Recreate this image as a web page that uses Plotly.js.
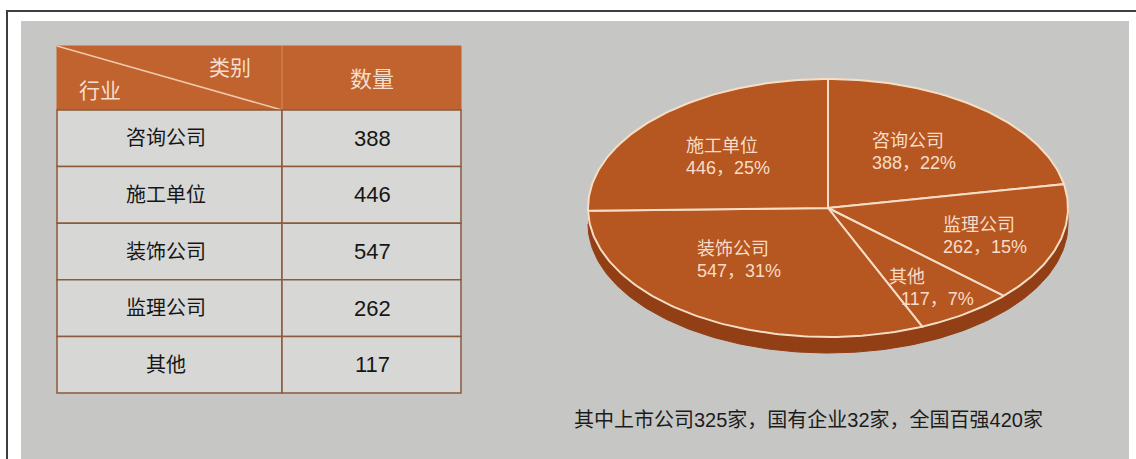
<!DOCTYPE html>
<html>
<head>
<meta charset="utf-8">
<script src="https://cdn.plot.ly/plotly-3.0.1.min.js"></script>
<style>html,body{margin:0;padding:0;background:#fff;}#chart{width:1136px;height:459px;}</style>
</head>
<body>
<div id="chart"></div>
<script>
// ---- data ----
const categories = ['咨询公司', '施工单位', '装饰公司', '监理公司', '其他'];
const counts = [388, 446, 547, 262, 117];
const pieOrder = ['咨询公司', '监理公司', '其他', '装饰公司', '施工单位'];
const headerCorner = ['类别', '行业'];
const headerValue = '数量';
const noteText = '其中上市公司325家，国有企业32家，全国百强420家';

// ---- style / layout config ----
const FONT = '"Liberation Sans", "Noto Sans CJK SC", sans-serif';
const W = 1136, H = 459;
const pageGrey = 'rgb(198,199,196)';
const tbl = {left: 57, split: 282, right: 461, top: 46, headH: 64, rowH: 56.6,
  headFill: 'rgb(193,99,46)', cellFill: 'rgb(215,216,213)', border: 'rgb(140,90,60)',
  headText: 'rgb(246,222,204)', cellText: '#161616'};
const pie = {cx: 828, cy: 208, rx: 240, ry: 129, depth: 16,
  top: 'rgb(182,86,32)', side: 'rgb(146,63,22)', edge: 'rgb(246,222,198)', text: 'rgb(247,221,200)'};
const labelR = {'咨询公司': 0.56, '施工单位': 0.56, '装饰公司': 0.5, '监理公司': 0.7, '其他': 0.7};
const labelShift = {'咨询公司': [0, 0], '施工单位': [-4, 0], '装饰公司': [-24, -2], '监理公司': [-4, 3], '其他': [6, 6]};

const shapes = [];
const annotations = [];
const traces = [];

// page frame & photo background
shapes.push({type: 'rect', xref: 'x', yref: 'y', x0: 21, x1: 1129, y0: 21, y1: H,
  fillcolor: pageGrey, line: {width: 0}, layer: 'below'});
shapes.push({type: 'path', xref: 'x', yref: 'y', path: `M7,${H} L7,11 L${W},11`,
  line: {color: '#3d3d3d', width: 2}, layer: 'below'});

// ---- table ----
shapes.push({type: 'rect', xref: 'x', yref: 'y', x0: tbl.left, x1: tbl.right, y0: tbl.top, y1: tbl.top + tbl.headH,
  fillcolor: tbl.headFill, line: {color: tbl.headFill, width: 1}, layer: 'below'});
shapes.push({type: 'line', xref: 'x', yref: 'y', x0: tbl.left, y0: tbl.top, x1: tbl.split, y1: tbl.top + tbl.headH,
  line: {color: 'rgb(240,200,170)', width: 1.5}, layer: 'below'});
shapes.push({type: 'line', xref: 'x', yref: 'y', x0: tbl.split, y0: tbl.top, x1: tbl.split, y1: tbl.top + tbl.headH,
  line: {color: 'rgb(215,140,95)', width: 1}, layer: 'below'});
annotations.push({x: 230, y: tbl.top + 21, xref: 'x', yref: 'y', text: headerCorner[0], showarrow: false,
  font: {family: FONT, size: 21, color: tbl.headText}});
annotations.push({x: 100, y: tbl.top + 44, xref: 'x', yref: 'y', text: headerCorner[1], showarrow: false,
  font: {family: FONT, size: 21, color: tbl.headText}});
annotations.push({x: (tbl.split + tbl.right) / 2, y: tbl.top + tbl.headH / 2 + 1, xref: 'x', yref: 'y', text: headerValue,
  showarrow: false, font: {family: FONT, size: 22, color: tbl.headText}});

categories.forEach((c, i) => {
  const y0 = tbl.top + tbl.headH + i * tbl.rowH, y1 = y0 + tbl.rowH;
  [[tbl.left, tbl.split], [tbl.split, tbl.right]].forEach(([x0, x1]) => {
    shapes.push({type: 'rect', xref: 'x', yref: 'y', x0, x1, y0, y1,
      fillcolor: tbl.cellFill, line: {color: tbl.border, width: 1.5}, layer: 'below'});
  });
  annotations.push({x: (tbl.left + tbl.split) / 2 - 4, y: (y0 + y1) / 2, xref: 'x', yref: 'y', text: c,
    showarrow: false, font: {family: FONT, size: 20, color: tbl.cellText}});
  annotations.push({x: (tbl.split + tbl.right) / 2 + 1, y: (y0 + y1) / 2, xref: 'x', yref: 'y', text: String(counts[i]),
    showarrow: false, font: {family: FONT, size: 22, color: tbl.cellText}});
});

// ---- 3D elliptical pie ----
const total = counts.reduce((a, b) => a + b, 0);
const deg = Math.PI / 180;
const ex = t => pie.cx + pie.rx * Math.cos(t * deg);
const ey = t => pie.cy - pie.ry * Math.sin(t * deg);

// side band (front half)
{
  const xs = [], ys = [];
  for (let t = 180; t <= 360; t += 1) { xs.push(ex(t)); ys.push(ey(t)); }
  for (let t = 360; t >= 180; t -= 1) { xs.push(ex(t)); ys.push(ey(t) + pie.depth); }
  traces.push({type: 'scatter', mode: 'lines', x: xs, y: ys, fill: 'toself', fillcolor: pie.side,
    line: {color: pie.side, width: 1}, hoverinfo: 'skip'});
}

let angle = 90;
pieOrder.forEach(name => {
  const v = counts[categories.indexOf(name)];
  const sweep = v / total * 360;
  const a0 = angle, a1 = angle - sweep;
  const xs = [pie.cx], ys = [pie.cy];
  const n = Math.max(8, Math.ceil(sweep));
  for (let k = 0; k <= n; k++) { const t = a0 - sweep * k / n; xs.push(ex(t)); ys.push(ey(t)); }
  xs.push(pie.cx); ys.push(pie.cy);
  traces.push({type: 'scatter', mode: 'lines', x: xs, y: ys, fill: 'toself', fillcolor: pie.top,
    line: {color: pie.edge, width: 2}, hoverinfo: 'skip'});
  const mid = (a0 + a1) / 2, r = labelR[name], sh = labelShift[name];
  const lx = pie.cx + r * pie.rx * Math.cos(mid * deg) + sh[0];
  const ly = pie.cy - r * pie.ry * Math.sin(mid * deg) + sh[1];
  const pct = Math.round(v / total * 100);
  const valText = `${v}，${pct}%`;
  annotations.push({x: lx, y: ly - 11, xref: 'x', yref: 'y', text: name, xanchor: 'left', showarrow: false,
    xshift: -44, font: {family: FONT, size: 18, color: pie.text}});
  annotations.push({x: lx, y: ly + 11, xref: 'x', yref: 'y', text: valText, xanchor: 'left', showarrow: false,
    xshift: name === '其他' ? -32 : -44, font: {family: FONT, size: 18, color: pie.text}});
  angle = a1;
});

// footnote
annotations.push({x: 808, y: 420, xref: 'x', yref: 'y', text: noteText, showarrow: false,
  font: {family: FONT, size: 20, color: '#1c1c1c'}});

Plotly.newPlot('chart', traces, {
  width: W, height: H, margin: {l: 0, r: 0, t: 0, b: 0},
  paper_bgcolor: '#ffffff', plot_bgcolor: '#ffffff', showlegend: false,
  xaxis: {range: [0, W], visible: false, fixedrange: true},
  yaxis: {range: [H, 0], visible: false, fixedrange: true},
  shapes, annotations
}, {staticPlot: true});
</script>
</body>
</html>
